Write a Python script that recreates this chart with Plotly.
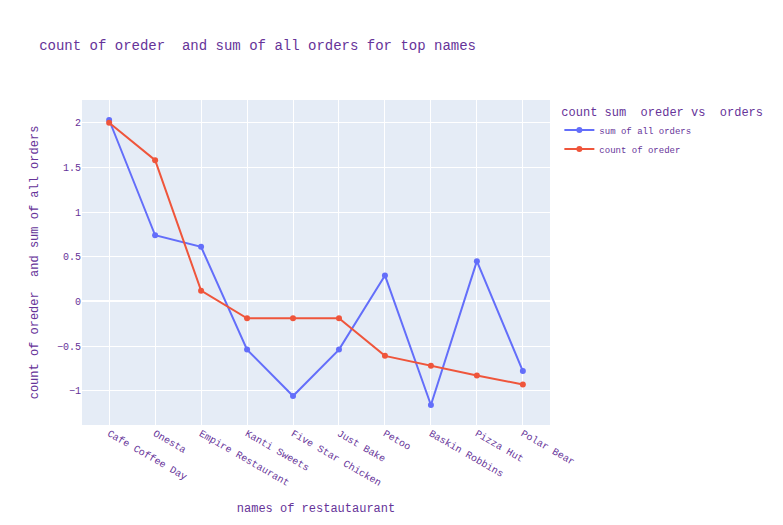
import plotly.graph_objects as go

names = ["Cafe Coffee Day", "Onesta", "Empire Restaurant", "Kanti Sweets",
         "Five Star Chicken", "Just Bake", "Petoo", "Baskin Robbins",
         "Pizza Hut", "Polar Bear"]
sum_orders = [2.03, 0.74, 0.61, -0.54, -1.06, -0.54, 0.29, -1.16, 0.45, -0.78]
count_orders = [2.0, 1.58, 0.12, -0.19, -0.19, -0.19, -0.61, -0.72, -0.83, -0.93]

fig = go.Figure()
fig.add_trace(go.Scatter(x=names, y=sum_orders, mode="lines+markers",
                         name="sum of all orders"))
fig.add_trace(go.Scatter(x=names, y=count_orders, mode="lines+markers",
                         name="count of oreder"))

fig.update_layout(
    width=783, height=525,
    margin=dict(l=82, r=233, t=100, b=100),
    title=dict(text="count of oreder  and sum of all orders for top names",
               font=dict(size=14)),
    xaxis_title="names of restautaurant",
    yaxis_title="count of oreder  and sum of all orders",
    legend_title="count sum  oreder vs  orders",
    font=dict(family="Liberation Mono, Courier New, monospace", size=10,
              color="RebeccaPurple"),
    legend=dict(font=dict(size=9), title_font=dict(size=12)),
)
fig.update_xaxes(title_font=dict(size=12), tickangle=30)
fig.update_yaxes(title_font=dict(size=12))

# no page margin so the figure sits at the window corner
fig.write_html("out.html", config={"displayModeBar": False},
               post_script="document.body.style.margin='0px';")
